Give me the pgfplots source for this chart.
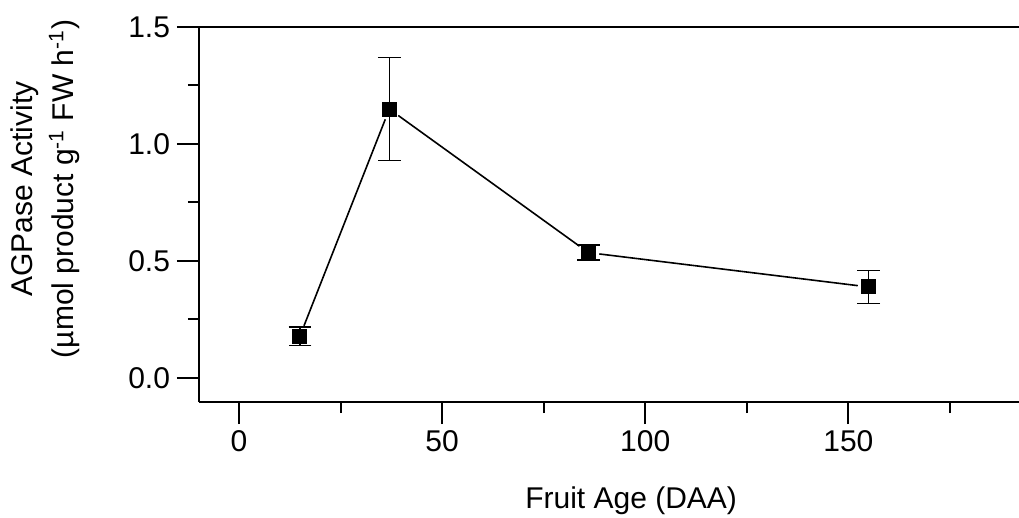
\documentclass[border=0pt]{standalone}
\usepackage{fontspec}
\setmainfont{Liberation Sans}
\usepackage{pgfplots}
\pgfplotsset{compat=1.18}
\begin{document}
\begin{tikzpicture}
\pgfplotstableread{
x y e
15 0.178 0.040
37 1.149 0.220
86 0.535 0.032
155 0.388 0.070
}\data
\begin{axis}[
  scale only axis,
  width=410bp, height=187.5bp,
  xmin=-9.85, xmax=192, ymin=-0.104, ymax=1.5,
  axis x line*=bottom, axis y line*=left,
  axis line style={line width=1bp, black},
  xtick={0,50,100,150}, minor xtick={25,75,125,175},
  ytick={0,0.5,1,1.5}, minor ytick={0.25,0.75,1.25},
  tick align=outside,
  major tick length=11bp, minor tick length=5.5bp,
  every tick/.style={black, line width=1bp},
  /pgf/number format/assume math mode=true,
  tick label style={font=\fontsize{15bp}{18bp}\selectfont},
  yticklabel style={/pgf/number format/.cd, fixed, fixed zerofill, precision=1},
  label style={font=\fontsize{15bp}{20.5bp}\selectfont},
  xlabel={Fruit Age (DAA)},
  xlabel style={at={(rel axis cs:0.527,-0.285)}, anchor=base},
  ylabel={AGPase Activity\\(µmol product g\textsuperscript{-1} FW h\textsuperscript{-1})},
  ylabel style={at={(rel axis cs:-0.1872,0.568)}, anchor=center, align=center},
  clip=false,
  seg/.style={black, line width=0.8bp, no marks, shorten <=5.5bp, shorten >=5.5bp},
]
\addplot[seg] coordinates {(15,0.178) (37,1.149)};
\addplot[seg] coordinates {(37,1.149) (86,0.535)};
\addplot[seg] coordinates {(86,0.535) (155,0.388)};
\addplot[only marks, mark=square*, mark size=3.5bp, mark options={fill=black, draw=black, line width=0pt},
  error bars/.cd, y dir=both, y explicit,
  error bar style={line width=0.8bp, black},
  error mark options={rotate=90, mark size=5.7bp, line width=0.8bp, black}]
  table[x=x,y=y,y error=e] {\data};
\coordinate (bl) at (rel axis cs:0,0);
\coordinate (tl) at (rel axis cs:0,1);
\coordinate (tr) at (rel axis cs:1,1);
\end{axis}
\draw[line width=1bp, black] (tl) -- (tr);
\pgfresetboundingbox
\path ([shift={(-99.5bp,-58bp)}]bl) rectangle ([shift={(0bp,13.5bp)}]tr);
\end{tikzpicture}
\end{document}
